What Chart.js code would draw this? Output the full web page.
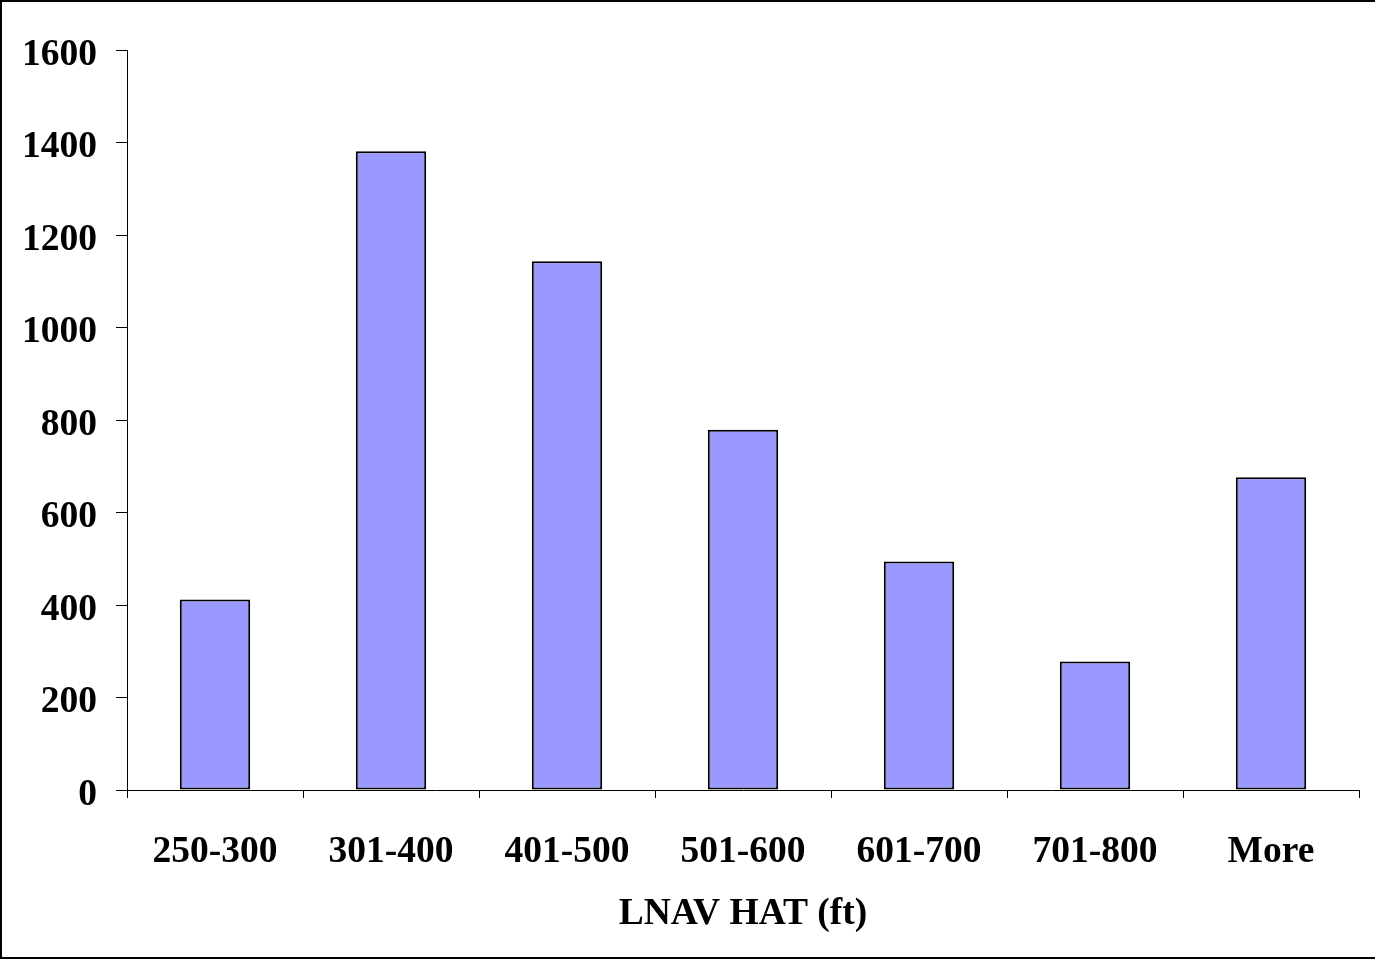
<!DOCTYPE html>
<html>
<head>
<meta charset="utf-8">
<script src="https://cdn.jsdelivr.net/npm/chart.js@4/dist/chart.umd.min.js"></script>
<style>
  html, body { margin: 0; padding: 0; overflow: hidden; background: #fff; }
  #frame {
    width: 1377px; height: 959px; box-sizing: border-box;
    border: 2px solid #000;
  }
</style>
</head>
<body>
<div id="frame"><canvas id="hat-chart" width="1373" height="955"></canvas></div>
<script>
const categories = ["250-300", "301-400", "401-500", "501-600", "601-700", "701-800", "More"];
const counts = [412, 1381, 1143, 779, 494, 278, 676];
const yTicks = [0, 200, 400, 600, 800, 1000, 1200, 1400, 1600];

const font = { family: "'Liberation Serif', 'Times New Roman', serif", size: 37.5, weight: "bold" };

const chart = new Chart(document.getElementById("hat-chart").getContext("2d"), {
  type: "bar",
  data: {
    labels: categories,
    datasets: [
      {
        label: "Count",
        data: counts,
        backgroundColor: "#9999ff",
        borderColor: "#000",
        borderWidth: 2,
        borderSkipped: false,
        categoryPercentage: 1,
        barPercentage: 0.4,
      },
    ],
  },
  options: {
    animation: false,
    responsive: false,
    layout: { padding: { top: 48, right: 16, left: 0, bottom: 0 } },
    plugins: { legend: { display: false }, tooltip: { enabled: false } },
    scales: {
      x: {
        grid: { drawOnChartArea: false, drawTicks: true, tickLength: 8, color: "#000", offset: true },
        border: { display: true, color: "#000", width: 1 },
        ticks: { color: "#000", font: font, padding: 32, maxRotation: 0 },
        title: { display: true, text: "LNAV HAT (ft)", color: "#000", font: font, padding: { top: 10, bottom: 20 } },
        afterFit: (scale) => { scale.height = 167; },
      },
      y: {
        min: 0,
        max: 1600,
        afterBuildTicks: (scale) => { scale.ticks = yTicks.map((v) => ({ value: v })); },
        grid: { drawOnChartArea: false, drawTicks: true, tickLength: 11, color: "#000" },
        border: { display: true, color: "#000", width: 1 },
        ticks: { color: "#000", font: font, padding: 19, labelOffset: 5, callback: (v) => String(v) },
        afterFit: (scale) => { scale.width = 125; },
      },
    },
  },
});
</script>
</body>
</html>
